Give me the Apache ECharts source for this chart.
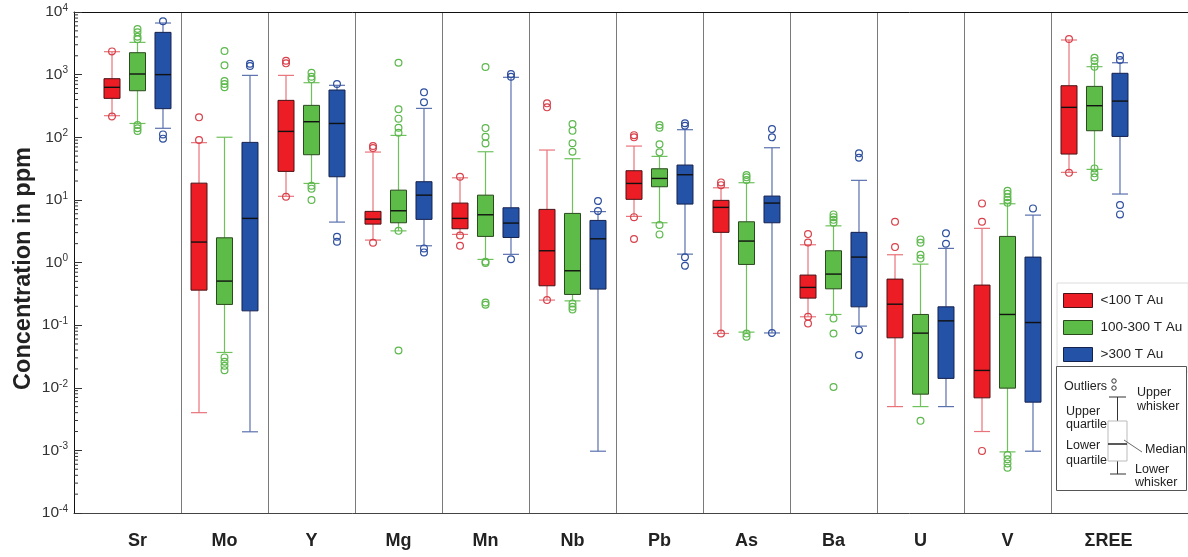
<!DOCTYPE html>
<html>
<head>
<meta charset="utf-8">
<script src="https://cdn.jsdelivr.net/npm/echarts@6/dist/echarts.min.js"></script>
<style>
  html, body { margin: 0; padding: 0; background: #fff; }
  #chart { width: 1188px; height: 557px; }
</style>
</head>
<body>
<div id="chart"></div>
<script>
// Element concentrations (ppm) by deposit size class
const categories = ['Sr', 'Mo', 'Y', 'Mg', 'Mn', 'Nb', 'Pb', 'As', 'Ba', 'U', 'V', 'ΣREE'];
const groupNames = ['<100 T Au', '100-300 T Au', '>300 T Au'];

// [lower whisker, lower quartile, median, upper quartile, upper whisker]
const boxLt100 = [
  [221, 418, 627, 861, 2323],
  [0.004, 0.362, 2.12, 18.5, 82],
  [11.4, 28.5, 124, 388, 973],
  [2.28, 4.1, 4.93, 6.55, 58],
  [2.81, 3.46, 5.06, 8.89, 22.5],
  [0.251, 0.425, 1.54, 7.05, 62.5],
  [5.45, 10.2, 18.3, 29.2, 72.3],
  [0.0736, 3.03, 7.59, 9.82, 15.6],
  [0.136, 0.27, 0.40, 0.63, 1.92],
  [0.005, 0.0627, 0.216, 0.543, 1.33],
  [0.002, 0.0069, 0.0189, 0.436, 3.51],
  [27.5, 53.9, 300, 665, 3573]
];
const box100to300 = [
  [166, 553, 1023, 2240, 3275],
  [0.0366, 0.214, 0.505, 2.48, 100],
  [18.3, 52.6, 177, 323, 743],
  [3.2, 4.31, 6.70, 14.3, 107],
  [1.12, 2.61, 5.78, 11.9, 58.7],
  [0.244, 0.309, 0.738, 6.08, 45.4],
  [4.31, 16.2, 22, 31.4, 49.5],
  [0.0773, 0.931, 2.20, 4.47, 18.8],
  [0.148, 0.38, 0.653, 1.54, 3.85],
  [0.005, 0.0079, 0.0745, 0.148, 0.942],
  [0.000946, 0.00986, 0.148, 2.61, 8.67],
  [30.7, 127, 319, 649, 1339]
];
const boxGt300 = [
  [139, 286, 1000, 4730, 6670],
  [0.00198, 0.169, 5.06, 82.8, 973],
  [4.42, 23.4, 166, 568, 675],
  [1.85, 4.88, 11.9, 19.5, 289],
  [1.35, 2.51, 4.26, 7.48, 906],
  [0.00097, 0.376, 2.39, 4.70, 6.5],
  [1.36, 8.57, 25.2, 36, 132],
  [0.075, 4.31, 8.89, 11.5, 68],
  [0.0964, 0.196, 1.22, 3.03, 20.5],
  [0.005, 0.0141, 0.117, 0.196, 1.68],
  [0.00097, 0.00589, 0.110, 1.22, 5.71],
  [12.4, 103, 378, 1050, 1549]
];

// Outliers: [element, value]
const outLt100 = [
  ['Sr', 2350], ['Sr', 215],
  ['Mo', 208], ['Mo', 90],
  ['Y', 1670], ['Y', 1514], ['Y', 11.2],
  ['Mg', 72.3], ['Mg', 67.2], ['Mg', 2.07],
  ['Mn', 23.4], ['Mn', 2.7], ['Mn', 1.85],
  ['Nb', 348], ['Nb', 300], ['Nb', 0.251],
  ['Pb', 108], ['Pb', 99.6], ['Pb', 5.3], ['Pb', 2.37],
  ['As', 19], ['As', 17.2], ['As', 0.0736],
  ['Ba', 2.84], ['Ba', 2.09], ['Ba', 0.136], ['Ba', 0.106],
  ['U', 4.47], ['U', 1.76],
  ['V', 8.79], ['V', 4.47], ['V', 0.00098],
  ['ΣREE', 3706], ['ΣREE', 27]
];
const out100to300 = [
  ['Sr', 5350], ['Sr', 4740], ['Sr', 4035], ['Sr', 3660], ['Sr', 157], ['Sr', 139], ['Sr', 126],
  ['Mo', 2380], ['Mo', 1407], ['Mo', 790], ['Mo', 708], ['Mo', 627],
  ['Mo', 0.0305], ['Mo', 0.026], ['Mo', 0.0224], ['Mo', 0.0191],
  ['Y', 1072], ['Y', 926], ['Y', 840], ['Y', 16.8], ['Y', 15.1], ['Y', 9.93],
  ['Mg', 1549], ['Mg', 279], ['Mg', 198], ['Mg', 142], ['Mg', 118], ['Mg', 3.2], ['Mg', 0.0394],
  ['Mn', 1322], ['Mn', 140], ['Mn', 102], ['Mn', 79.8], ['Mn', 1.03], ['Mn', 0.985], ['Mn', 0.230], ['Mn', 0.211],
  ['Nb', 163], ['Nb', 127], ['Nb', 80], ['Nb', 58.7], ['Nb', 0.222], ['Nb', 0.196], ['Nb', 0.178],
  ['Pb', 157], ['Pb', 142], ['Pb', 77], ['Pb', 57.4], ['Pb', 3.96], ['Pb', 2.81],
  ['As', 24.9], ['As', 22.9], ['As', 20.7], ['As', 0.0736], ['As', 0.0652],
  ['Ba', 5.86], ['Ba', 5.3], ['Ba', 4.8], ['Ba', 4.31], ['Ba', 0.128], ['Ba', 0.0736], ['Ba', 0.0103],
  ['U', 2.34], ['U', 2.07], ['U', 1.33], ['U', 1.16], ['U', 0.00296],
  ['V', 14], ['V', 12.5], ['V', 11], ['V', 10], ['V', 9],
  ['V', 0.00084], ['V', 0.00072], ['V', 0.00062], ['V', 0.00053],
  ['ΣREE', 1862], ['ΣREE', 1649], ['ΣREE', 1340], ['ΣREE', 31.8], ['ΣREE', 26.5], ['ΣREE', 22.9]
];
const outGt300 = [
  ['Sr', 7100], ['Sr', 111], ['Sr', 95],
  ['Mo', 1493], ['Mo', 1372],
  ['Y', 708], ['Y', 2.58], ['Y', 2.14],
  ['Mg', 521], ['Mg', 361], ['Mg', 1.68], ['Mg', 1.45],
  ['Mn', 1023], ['Mn', 926], ['Mn', 1.13],
  ['Nb', 9.57], ['Nb', 6.62],
  ['Pb', 167], ['Pb', 153], ['Pb', 1.21], ['Pb', 0.885],
  ['As', 135], ['As', 99.6], ['As', 0.075],
  ['Ba', 55.3], ['Ba', 47.1], ['Ba', 0.0832], ['Ba', 0.0332],
  ['U', 2.92], ['U', 1.99],
  ['V', 7.31],
  ['ΣREE', 2004], ['ΣREE', 1711], ['ΣREE', 8.26], ['ΣREE', 5.86]
];

// Log-axis minor tick positions (2..9 within each decade)
const minorTickValues = [];
for (let e = -4; e < 4; e++) {
  for (let k = 2; k <= 9; k++) minorTickValues.push(k * Math.pow(10, e));
}

const FONT = '"Liberation Sans", Arial, sans-serif';
const SLOT_STEP = 0.293;   // horizontal offset between groups, in category widths
const BOX_HALF = 0.092;    // half box width, in category widths

const styles = [
  { fill: '#EC1D25', border: '#4a1215', whisker: '#E8737A', outlier: '#D8414B' },
  { fill: '#5DBB47', border: '#2a4a1e', whisker: '#6FC15C', outlier: '#5DB84D' },
  { fill: '#2352A6', border: '#16224e', whisker: '#5A71AE', outlier: '#2D4F9E' }
];

function boxRows(list) {
  return list.map((r, i) => [i].concat(r));
}
function outlierRows(list) {
  return list.map(p => [categories.indexOf(p[0]), p[1]]);
}

function makeBoxRenderer(slot, st) {
  return function (params, api) {
    const ci = api.value(0);
    const band = api.size([1, 0])[0];
    const xc = api.coord([ci, 1])[0] + (slot - 1) * band * SLOT_STEP;
    const hw = band * BOX_HALF;
    const yy = k => api.coord([ci, api.value(k)])[1];
    const yLo = yy(1), yQ1 = yy(2), yMed = yy(3), yQ3 = yy(4), yHi = yy(5);
    const wStyle = { stroke: st.whisker, lineWidth: 1.2 };
    return {
      type: 'group',
      children: [
        { type: 'line', shape: { x1: xc, y1: yHi, x2: xc, y2: yQ3 }, style: wStyle },
        { type: 'line', shape: { x1: xc - hw, y1: yHi, x2: xc + hw, y2: yHi }, style: wStyle },
        { type: 'line', shape: { x1: xc, y1: yQ1, x2: xc, y2: yLo }, style: wStyle },
        { type: 'line', shape: { x1: xc - hw, y1: yLo, x2: xc + hw, y2: yLo }, style: wStyle },
        { type: 'rect', shape: { x: xc - hw, y: yQ3, width: hw * 2, height: yQ1 - yQ3 },
          style: { fill: st.fill, stroke: st.border, lineWidth: 1 } },
        { type: 'line', shape: { x1: xc - hw, y1: yMed, x2: xc + hw, y2: yMed },
          style: { stroke: '#111', lineWidth: 1.4 } }
      ]
    };
  };
}

function makeOutlierRenderer(slot, st) {
  return function (params, api) {
    const ci = api.value(0);
    const band = api.size([1, 0])[0];
    const p = api.coord([ci, api.value(1)]);
    return {
      type: 'circle',
      shape: { cx: p[0] + (slot - 1) * band * SLOT_STEP, cy: p[1], r: 3.4 },
      style: { fill: 'rgba(255,255,255,0)', stroke: st.outlier, lineWidth: 1.2 }
    };
  };
}

const boxData = [boxLt100, box100to300, boxGt300];
const outData = [outLt100, out100to300, outGt300];

const series = [];
boxData.forEach((list, g) => {
  series.push({
    name: groupNames[g],
    type: 'custom',
    xAxisIndex: 1, yAxisIndex: 1,
    itemStyle: { color: styles[g].fill },
    renderItem: makeBoxRenderer(g, styles[g]),
    encode: { x: 0, y: [1, 2, 3, 4, 5] },
    data: boxRows(list),
    z: 3
  });
});
outData.forEach((list, g) => {
  series.push({
    name: groupNames[g] + ' outliers',
    type: 'custom',
    xAxisIndex: 1, yAxisIndex: 1,
    renderItem: makeOutlierRenderer(g, styles[g]),
    encode: { x: 0, y: 1 },
    data: outlierRows(list),
    z: 4
  });
});
// minor ticks along the log axis
series.push({
  name: 'minor ticks',
  type: 'custom',
  xAxisIndex: 0, yAxisIndex: 0,
  silent: true,
  renderItem: function (params, api) {
    const p = api.coord([0, api.value(1)]);
    return { type: 'line', shape: { x1: p[0], y1: p[1], x2: p[0] + 4, y2: p[1] },
      style: { stroke: '#333', lineWidth: 1 } };
  },
  encode: { x: 0, y: 1 },
  data: minorTickValues.map(v => [0, v]),
  z: 5
});

const option = {
  backgroundColor: '#fff',
  animation: false,
  textStyle: { fontFamily: FONT },
  grid: [
    { left: 74, right: 0, top: 12, bottom: 44, containLabel: false, outerBoundsMode: 'none' },
    { left: 94, right: 50, top: 12, bottom: 44, containLabel: false, outerBoundsMode: 'none' }
  ],
  xAxis: [
    { type: 'value', gridIndex: 0, min: 0, max: 1, position: 'bottom',
      axisLine: { show: true, lineStyle: { color: '#444', width: 1 } },
      axisTick: { show: false }, axisLabel: { show: false }, splitLine: { show: false } },
    { type: 'category', gridIndex: 1, data: categories, boundaryGap: true,
      axisLine: { show: false }, axisTick: { show: false },
      axisLabel: {
        interval: 0,
        fontSize: 18, fontWeight: 'bold', color: '#222', margin: 19, fontFamily: FONT,
        formatter: function (v, i) {
          return i === categories.length - 1 ? '{w|' + v + '}' : v;
        },
        rich: { w: { fontSize: 18, fontWeight: 'bold', color: '#222', fontFamily: FONT, padding: [0, 0, 0, 28] } }
      },
      splitLine: { show: true, interval: 0, showMinLine: false, showMaxLine: false,
        lineStyle: { color: '#7a7a7a', width: 1 } } },
    { type: 'value', gridIndex: 0, min: 0, max: 1, position: 'top',
      axisLine: { show: true, lineStyle: { color: '#111', width: 1 } },
      axisTick: { show: false }, axisLabel: { show: false }, splitLine: { show: false } }
  ],
  yAxis: [
    { type: 'log', gridIndex: 0, logBase: 10, min: 1e-4, max: 1e4, splitNumber: 8,
      name: 'Concentration in ppm', nameLocation: 'middle', nameGap: 38, nameMoveOverlap: false,
      nameTextStyle: { fontSize: 23.5, fontWeight: 'bold', color: '#222', fontFamily: FONT, padding: [0, 12, 0, 0] },
      axisLine: { show: true, lineStyle: { color: '#111', width: 1 } },
      axisTick: { show: true, inside: true, length: 8, lineStyle: { color: '#333' } },
      splitLine: { show: false },
      axisLabel: {
        margin: 6, color: '#333',
        formatter: function (v) {
          const e = Math.round(Math.log10(v));
          return '{b|10}{s|' + e + '}';
        },
        rich: {
          b: { fontSize: 15.5, fontFamily: FONT, color: '#333', lineHeight: 18 },
          s: { fontSize: 10, fontFamily: FONT, color: '#333', verticalAlign: 'top', lineHeight: 10 }
        }
      } },
    { type: 'log', gridIndex: 1, logBase: 10, min: 1e-4, max: 1e4, splitNumber: 8, show: false }
  ],
  legend: {
    data: groupNames.map((n, g) => ({
      name: n, icon: 'rect',
      itemStyle: { color: styles[g].fill, borderColor: styles[g].border, borderWidth: 1 }
    })),
    orient: 'vertical',
    left: 1057, top: 283,
    padding: [10, 6, 10, 6],
    itemWidth: 29, itemHeight: 14, itemGap: 12,
    borderColor: '#dcdcdc', borderWidth: 1,
    backgroundColor: '#fff',
    selectedMode: false,
    textStyle: { fontSize: 13.5, color: '#222', fontFamily: FONT, padding: [0, 0, 0, 3] }
  },
  graphic: {
    elements: [
      { type: 'rect', z: 100, shape: { x: 1056.5, y: 366.5, width: 130, height: 124 },
        style: { fill: '#fff', stroke: '#555', lineWidth: 1 } },
      { type: 'text', z: 101, x: 1064, y: 387, style: { text: 'Outliers', font: '12.5px ' + FONT, fill: '#222', verticalAlign: 'middle' } },
      { type: 'circle', z: 101, shape: { cx: 1114, cy: 381, r: 2.2 }, style: { fill: 'none', stroke: '#333', lineWidth: 1 } },
      { type: 'circle', z: 101, shape: { cx: 1114, cy: 388, r: 2.2 }, style: { fill: 'none', stroke: '#333', lineWidth: 1 } },
      { type: 'line', z: 101, shape: { x1: 1117.5, y1: 397, x2: 1117.5, y2: 421 }, style: { stroke: '#333', lineWidth: 1 } },
      { type: 'line', z: 101, shape: { x1: 1117.5, y1: 461, x2: 1117.5, y2: 474 }, style: { stroke: '#333', lineWidth: 1 } },
      { type: 'line', z: 101, shape: { x1: 1109, y1: 397, x2: 1126, y2: 397 }, style: { stroke: '#333', lineWidth: 1 } },
      { type: 'line', z: 101, shape: { x1: 1110, y1: 474, x2: 1126, y2: 474 }, style: { stroke: '#333', lineWidth: 1 } },
      { type: 'rect', z: 101, shape: { x: 1108, y: 421, width: 19, height: 40 }, style: { fill: 'none', stroke: '#bbb', lineWidth: 1 } },
      { type: 'line', z: 101, shape: { x1: 1108, y1: 444, x2: 1127, y2: 444 }, style: { stroke: '#222', lineWidth: 1.5 } },
      { type: 'line', z: 101, shape: { x1: 1124, y1: 440, x2: 1142, y2: 452 }, style: { stroke: '#444', lineWidth: 0.8 } },
      { type: 'text', z: 101, x: 1137, y: 393, style: { text: 'Upper', font: '12.5px ' + FONT, fill: '#222', verticalAlign: 'middle' } },
      { type: 'text', z: 101, x: 1137, y: 407, style: { text: 'whisker', font: '12.5px ' + FONT, fill: '#222', verticalAlign: 'middle' } },
      { type: 'text', z: 101, x: 1066, y: 412, style: { text: 'Upper', font: '12.5px ' + FONT, fill: '#222', verticalAlign: 'middle' } },
      { type: 'text', z: 101, x: 1066, y: 425, style: { text: 'quartile', font: '12.5px ' + FONT, fill: '#222', verticalAlign: 'middle' } },
      { type: 'text', z: 101, x: 1066, y: 446, style: { text: 'Lower', font: '12.5px ' + FONT, fill: '#222', verticalAlign: 'middle' } },
      { type: 'text', z: 101, x: 1066, y: 461, style: { text: 'quartile', font: '12.5px ' + FONT, fill: '#222', verticalAlign: 'middle' } },
      { type: 'text', z: 101, x: 1145, y: 450, style: { text: 'Median', font: '12.5px ' + FONT, fill: '#222', verticalAlign: 'middle' } },
      { type: 'text', z: 101, x: 1135, y: 470, style: { text: 'Lower', font: '12.5px ' + FONT, fill: '#222', verticalAlign: 'middle' } },
      { type: 'text', z: 101, x: 1135, y: 483, style: { text: 'whisker', font: '12.5px ' + FONT, fill: '#222', verticalAlign: 'middle' } }
    ]
  },
  series: series
};

const chart = echarts.init(document.getElementById('chart'), null, { renderer: 'canvas' });
chart.setOption(option);
</script>
</body>
</html>
